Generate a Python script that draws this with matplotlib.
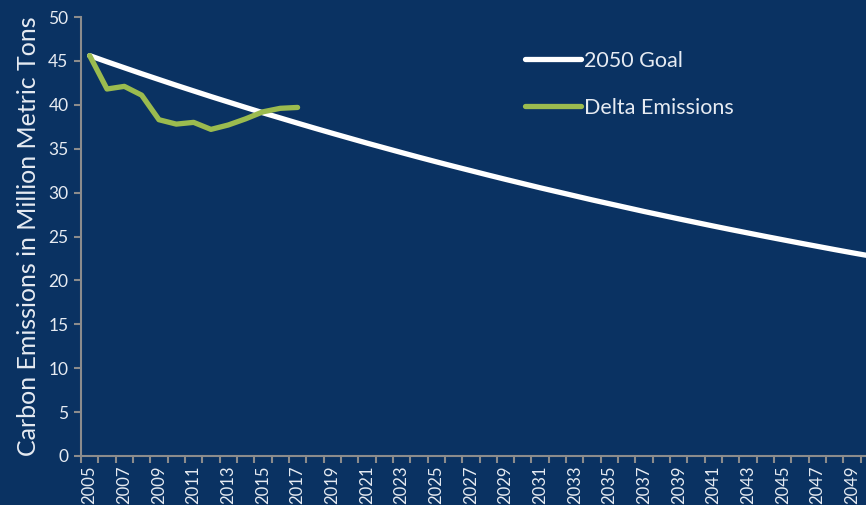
import numpy as np
import matplotlib
matplotlib.use('Agg')
from matplotlib import pyplot as plt

# data
years = list(range(2005, 2051))
goal = [45.60, 44.90, 44.22, 43.54, 42.88, 42.22, 41.58, 40.94, 40.32, 39.70,
        39.09, 38.50, 37.91, 37.33, 36.76, 36.20, 35.64, 35.10, 34.56, 34.03,
        33.51, 33.00, 32.50, 32.00, 31.51, 31.03, 30.55, 30.09, 29.63, 29.17,
        28.73, 28.29, 27.85, 27.43, 27.01, 26.60, 26.19, 25.79, 25.40, 25.01,
        24.63, 24.25, 23.88, 23.51, 23.15, 22.80]
delta_years = list(range(2005, 2018))
delta = [45.6, 41.8, 42.1, 41.1, 38.3, 37.8, 38.0, 37.2, 37.7, 38.4, 39.2, 39.6, 39.7]

bg = '#0a3262'
txt = '#e6ebf2'
axis_col = '#8c8c8c'

plt.rcParams['font.family'] = ['Lato', 'DejaVu Sans']

fig = plt.figure(figsize=(8.66, 5.05), dpi=100, facecolor=bg)
ax = fig.add_axes([81 / 866, 49 / 505, 797 / 866, 439 / 505])
ax.set_facecolor(bg)

x_goal = np.arange(len(years))
x_delta = np.arange(len(delta_years))
ax.plot(x_goal, goal, color='white', lw=3.8, solid_capstyle='round', label='2050 Goal', zorder=3)
ax.plot(x_delta, delta, color='#9bbb4f', lw=3.8, solid_capstyle='round',
        solid_joinstyle='round', label='Delta Emissions', zorder=4)

ax.set_xlim(-0.5, len(years) - 0.5)
ax.set_ylim(0, 50)
ax.set_yticks(range(0, 51, 5))

# labels every other year at category centres, tick marks at boundaries
ax.set_xticks(x_goal[::2])
ax.set_xticklabels([str(y) for y in years[::2]], rotation=90)
ax.set_xticks(np.arange(-0.5, len(years)), minor=True)
ax.tick_params(axis='x', which='major', length=0, pad=7, labelsize=12, colors=txt)
ax.tick_params(axis='x', which='minor', length=5, width=1.5, color=axis_col)
ax.tick_params(axis='y', length=5, width=1.5, color=axis_col, labelsize=12.5,
               labelcolor=txt, pad=4)

for s in ['top', 'right']:
    ax.spines[s].set_visible(False)
for s in ['left', 'bottom']:
    ax.spines[s].set_color(axis_col)
    ax.spines[s].set_linewidth(1.5)

ax.set_ylabel('Carbon Emissions in Million Metric Tons', fontsize=18, color=txt, labelpad=6)

leg = ax.legend(loc='upper left', bbox_to_anchor=(525 / 866, 1 - 51 / 505),
                bbox_transform=fig.transFigure, frameon=False, fontsize=15.5,
                borderpad=0, borderaxespad=0,
                handlelength=2.6, handletextpad=0.15, labelspacing=1.25)
for t in leg.get_texts():
    t.set_color(txt)

fig.savefig('out.png', dpi=100, facecolor=bg)
